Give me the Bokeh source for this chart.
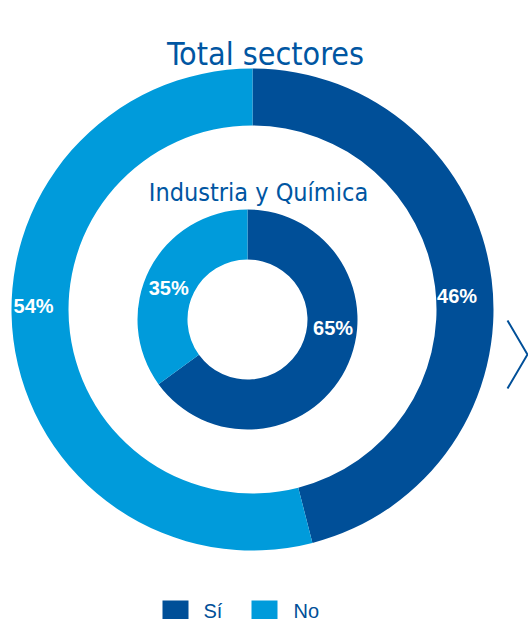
import math
from bokeh.plotting import figure
from bokeh.models import Range1d
from bokeh.core.properties import value
from bokeh.embed import file_html
from bokeh.resources import INLINE

# ---- data ----
categories = ["Sí", "No"]
total_values = [46, 54]          # Total sectores (outer ring)
industria_values = [65, 35]      # Industria y Química (inner ring)
colors = ["#004F98", "#009BDB"]
title_total = "Total sectores"
title_industria = "Industria y Química"

# ---- layout (page pixel coordinates) ----
W, H = 528, 619
def Y(py):
    return H - py

p = figure(width=W, height=H,
           x_range=Range1d(0, W), y_range=Range1d(0, H),
           output_backend="svg", toolbar_location=None, min_border=0)
p.axis.visible = False
p.grid.visible = False
p.outline_line_color = None
p.background_fill_color = "white"
p.border_fill_color = "white"

def donut(vals, cx, cy, r_in, r_out, label_ang, label_r):
    tot = float(sum(vals))
    start = math.pi / 2
    starts, ends = [], []
    for v in vals:
        end = start - 2 * math.pi * v / tot
        starts.append(start)
        ends.append(end)
        start = end
    p.annular_wedge(x=[cx] * len(vals), y=[cy] * len(vals),
                    inner_radius=r_in, outer_radius=r_out,
                    start_angle=starts, end_angle=ends, direction="clock",
                    fill_color=colors, line_color=None)
    lx = [cx + r * math.cos(math.radians(a)) for a, r in zip(label_ang, label_r)]
    ly = [cy + r * math.sin(math.radians(a)) for a, r in zip(label_ang, label_r)]
    texts = [f"{v}%" for v in vals]
    p.text(x=lx, y=ly, text=texts, text_align="center", text_baseline="middle",
           text_color="white", text_font=value("Liberation Sans"),
           text_font_style="bold", text_font_size="20px")

# outer ring: Total sectores
donut(total_values, 252, Y(309), 184, 241, [3.9, 179.0], [205, 219])
# inner ring: Industria y Química
donut(industria_values, 247, Y(319), 60, 110, [-5.4, 158.0], [86, 85])

title_font = value("'DejaVu Sans Condensed', 'Roboto Condensed', 'Liberation Sans Narrow', Roboto, sans-serif")
p.text(x=[265], y=[Y(53)], text=[title_total], text_align="center",
       text_baseline="alphabetic", text_color="#0056A2", text_font=title_font,
       text_font_size="32px")
p.text(x=[258], y=[Y(192)], text=[title_industria], text_align="center",
       text_baseline="alphabetic", text_color="#0056A2", text_font=title_font,
       text_font_size="25px")

# arrow chevron at right edge
p.line(x=[507, 527, 507], y=[Y(320), Y(354), Y(388)], line_color="#004F98", line_width=2)

# legend
leg_x = [175, 264]
leg_tx = [203, 293]
p.rect(x=leg_x, y=[Y(613)] * 2, width=26, height=26, fill_color=colors, line_color=None)
p.text(x=leg_tx, y=[Y(599)] * 2, text=categories, text_align="left",
       text_baseline="top", text_color="#004F98",
       text_font=value("Liberation Sans"), text_font_size="20px")

open("out.html", "w").write(file_html(p, INLINE))
